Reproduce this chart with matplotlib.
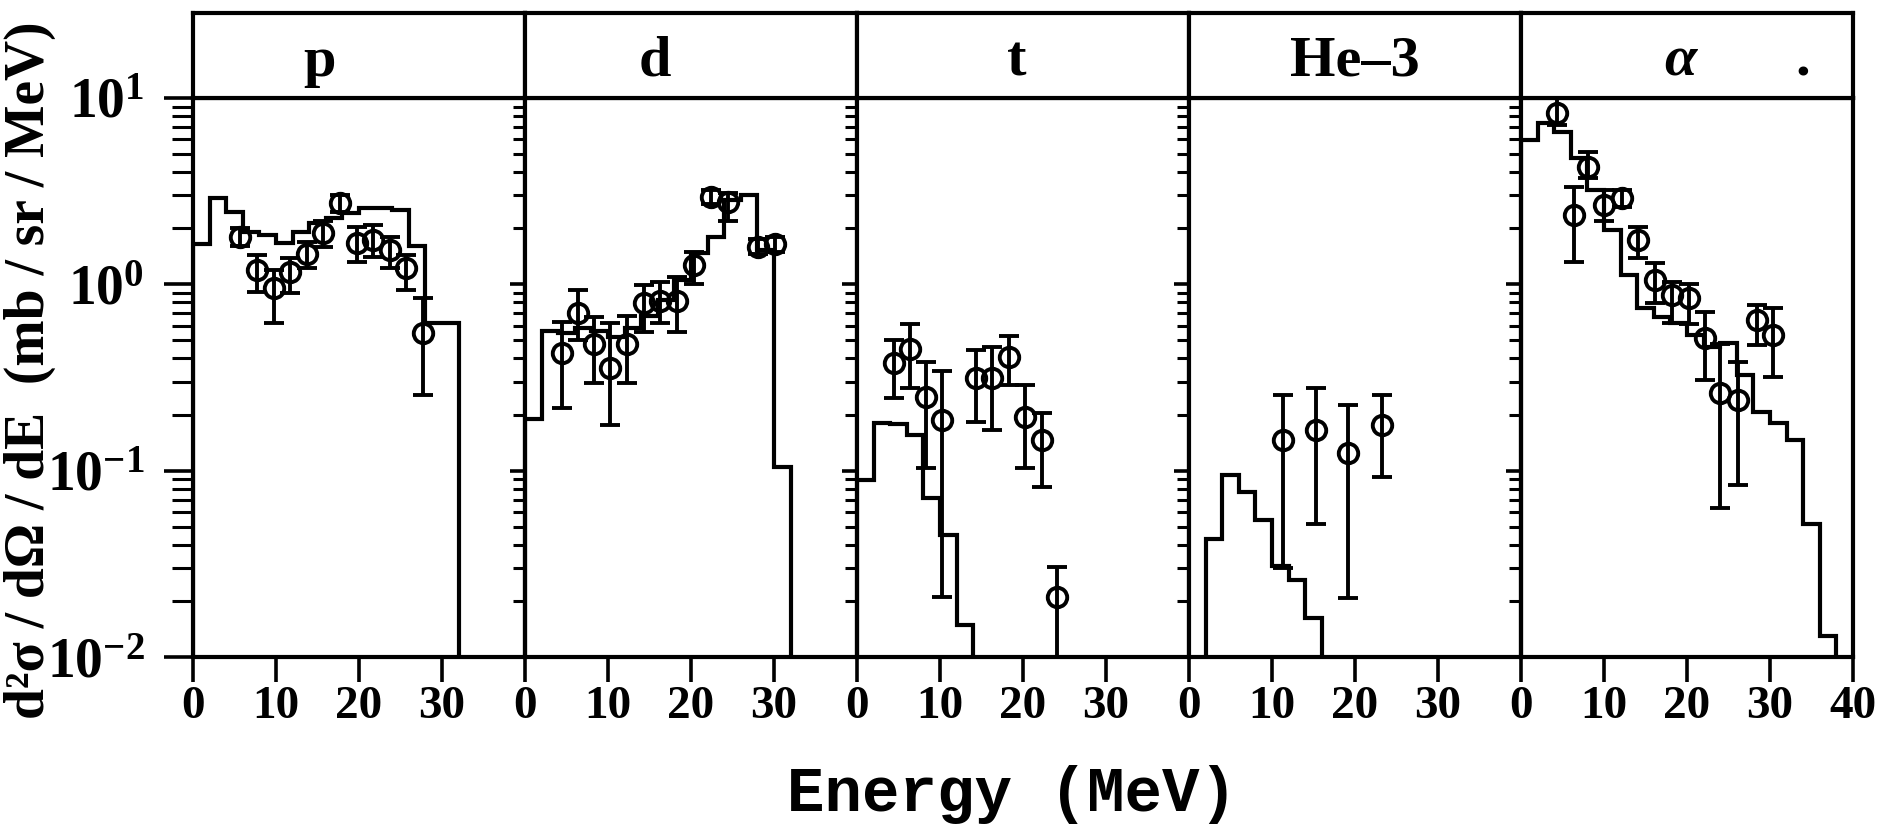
import numpy as np
import matplotlib
matplotlib.use("Agg")
import matplotlib.pyplot as plt
from matplotlib.ticker import LogLocator, NullFormatter, FixedLocator, FuncFormatter

# ---------------- data ----------------
panel_labels = ["p", "d", "t", "He\u20133", "\u03b1"]

# histogram bin edges (MeV) and calculated spectra
edges_p = [0, 2, 4, 6, 8, 10, 12, 14, 16, 18, 20, 22, 24, 26, 28, 30, 32]
hist_p = [1.65, 2.9, 2.43, 1.92, 1.84, 1.66, 1.92, 2.14, 2.26, 2.4, 2.56, 2.56, 2.5, 1.61, 0.62, 0.62]

edges_d = [0, 2, 4, 6, 8, 10, 12, 14, 16, 18, 20, 22, 24, 26, 28, 30, 32]
hist_d = [0.19, 0.56, 0.55, 0.58, 0.56, 0.52, 0.58, 0.68, 0.82, 1.05, 1.47, 1.79, 2.84, 3.02, 1.53, 0.105]

edges_t = [0, 2, 4, 6, 8, 10, 12, 14]
hist_t = [0.089, 0.181, 0.177, 0.156, 0.071, 0.045, 0.0149]

edges_he3 = [0, 2, 4, 6, 8, 10, 12, 14, 16]
hist_he3 = [0.0, 0.0428, 0.0948, 0.0772, 0.0544, 0.0306, 0.0259, 0.0161]

edges_a = [0, 2, 4, 6, 8, 10, 12, 14, 16, 18, 20, 22, 24, 26, 28, 30, 32, 34, 36, 38]
hist_a = [5.95, 7.3, 6.6, 4.75, 3.2, 1.96, 1.12, 0.743, 0.671, 0.618, 0.535, 0.463,
          0.482, 0.326, 0.207, 0.18, 0.146, 0.052, 0.013]

# measured points: energy, value, lower bound, upper bound
E_p = [5.7, 7.7, 9.7, 11.7, 13.7, 15.7, 17.7, 19.7, 21.7, 23.7, 25.7, 27.7]
v_p = [1.79, 1.19, 0.95, 1.17, 1.46, 1.88, 2.72, 1.66, 1.73, 1.52, 1.23, 0.545]
lo_p = [1.6, 0.91, 0.62, 0.9, 1.22, 1.59, 2.45, 1.32, 1.41, 1.22, 0.93, 0.255]
hi_p = [2.0, 1.44, 1.19, 1.38, 1.69, 2.2, 3.0, 2.04, 2.08, 1.8, 1.44, 0.84]

E_d = [4.4, 6.4, 8.3, 10.3, 12.3, 14.3, 16.3, 18.3, 20.4, 22.4, 24.5, 28.1, 30.1]
v_d = [0.426, 0.70, 0.48, 0.354, 0.48, 0.79, 0.81, 0.81, 1.27, 2.95, 2.75, 1.59, 1.65]
lo_d = [0.216, 0.50, 0.294, 0.176, 0.294, 0.557, 0.62, 0.557, 1.0, 2.7, 2.2, 1.45, 1.5]
hi_d = [0.63, 0.93, 0.67, 0.62, 0.68, 0.99, 1.03, 1.1, 1.5, 3.2, 3.1, 1.75, 1.8]

E_t = [4.4, 6.4, 8.3, 10.3, 14.3, 16.3, 18.3, 20.3, 22.3, 24.1]
v_t = [0.377, 0.448, 0.249, 0.187, 0.313, 0.313, 0.409, 0.195, 0.146, 0.0211]
lo_t = [0.245, 0.277, 0.103, 0.0211, 0.183, 0.165, 0.288, 0.103, 0.082, 0.001]
hi_t = [0.50, 0.61, 0.385, 0.344, 0.444, 0.463, 0.528, 0.288, 0.203, 0.0305]

E_he3 = [11.3, 15.3, 19.2, 23.3]
v_he3 = [0.146, 0.165, 0.124, 0.176]
lo_he3 = [0.03, 0.052, 0.0207, 0.093]
hi_he3 = [0.255, 0.277, 0.225, 0.255]

E_a = [4.3, 6.4, 8.1, 10.0, 12.2, 14.1, 16.2, 18.2, 20.2, 22.2, 24.0, 26.2, 28.4, 30.4]
v_a = [8.3, 2.35, 4.28, 2.67, 2.9, 1.73, 1.05, 0.877, 0.84, 0.513, 0.26, 0.239, 0.644, 0.535]
lo_a = [7.2, 1.32, 3.7, 2.2, 2.6, 1.38, 0.79, 0.62, 0.61, 0.307, 0.063, 0.084, 0.47, 0.32]
hi_a = [10.0, 3.34, 5.15, 3.2, 3.2, 2.04, 1.3, 1.03, 1.01, 0.713, 0.48, 0.385, 0.775, 0.75]

x_ticks = [0, 10, 20, 30]
x_ticks_last = [0, 10, 20, 30, 40]

ylabel = "d\u00b2\u03c3 / d\u03a9 / dE  (mb / sr / MeV)"
xlabel = "Energy (MeV)"

# ---------------- style ----------------
plt.rcParams['font.family'] = ['Liberation Serif', 'DejaVu Serif']
plt.rcParams['font.weight'] = 'bold'
plt.rcParams['mathtext.fontset'] = 'custom'
plt.rcParams['mathtext.rm'] = 'Liberation Serif:bold'
plt.rcParams['mathtext.bf'] = 'Liberation Serif:bold'
plt.rcParams['mathtext.it'] = 'Liberation Serif:italic:bold'

W_PX, H_PX = 1886, 840
fig = plt.figure(figsize=(W_PX / 100, H_PX / 100), dpi=100)

left = 193 / W_PX
pw = 332 / W_PX
bottom = 1 - 657 / H_PX
ph = (657 - 98) / H_PX
sb = 1 - 98 / H_PX
sh = (98 - 13) / H_PX

LW = 3.0
ELW = 2.8
panels = [
    (edges_p, hist_p, E_p, v_p, lo_p, hi_p),
    (edges_d, hist_d, E_d, v_d, lo_d, hi_d),
    (edges_t, hist_t, E_t, v_t, lo_t, hi_t),
    (edges_he3, hist_he3, E_he3, v_he3, lo_he3, hi_he3),
    (edges_a, hist_a, E_a, v_a, lo_a, hi_a),
]
label_xpos = [0.38, 0.39, 0.48, 0.5, 0.48]


def ylab(v, pos):
    e = int(round(np.log10(v)))
    return r"$\mathbf{10^{%d}}$" % e


for i, (edges, hist, E, v, lo, hi) in enumerate(panels):
    ax = fig.add_axes([left + i * pw, bottom, pw, ph])
    ax.set_yscale('log')
    ax.set_xlim(0, 40)
    ax.set_ylim(1e-2, 10)

    h = np.asarray(hist, dtype=float)
    h = np.where(h > 0, h, 1e-6)
    ax.stairs(h, edges, baseline=1e-6, color='black', lw=LW)

    v = np.asarray(v, dtype=float)
    yerr = [v - np.asarray(lo), np.asarray(hi) - v]
    ax.errorbar(E, v, yerr=yerr, fmt='o', mfc='none', mec='black', ecolor='black',
                ms=14, mew=ELW, elinewidth=ELW, capsize=7.5, capthick=ELW, clip_on=True)

    for s in ax.spines.values():
        s.set_linewidth(LW)

    ax.xaxis.set_major_locator(FixedLocator(x_ticks_last if i == 4 else x_ticks))
    ax.tick_params(axis='x', which='major', direction='out', length=18, width=2.6,
                   pad=3, labelsize=34, top=False)
    ax.yaxis.set_major_locator(LogLocator(base=10, numticks=10))
    ax.yaxis.set_minor_locator(LogLocator(base=10, subs=np.arange(2, 10), numticks=20))
    ax.yaxis.set_minor_formatter(NullFormatter())
    if i == 0:
        ax.yaxis.set_major_formatter(FuncFormatter(ylab))
        ax.tick_params(axis='y', which='major', direction='out', length=21, width=2.6,
                       pad=14, labelsize=40, right=False)
        ax.tick_params(axis='y', which='minor', direction='out', length=15, width=2.2,
                       right=False)
    else:
        ax.tick_params(axis='y', which='major', direction='out', length=11, width=2.6,
                       labelleft=False, right=False)
        ax.tick_params(axis='y', which='minor', direction='out', length=8.5, width=2.2,
                       right=False)

    sax = fig.add_axes([left + i * pw, sb, pw, sh])
    sax.set_xticks([])
    sax.set_yticks([])
    for s in sax.spines.values():
        s.set_linewidth(LW)
    style = 'italic' if panel_labels[i] == "\u03b1" else 'normal'
    sax.text(label_xpos[i], 0.26, panel_labels[i], transform=sax.transAxes,
             ha='center', va='baseline', fontsize=42, fontweight='bold', fontstyle=style)
    if i == 4:
        sax.text(0.85, 0.26, ".", transform=sax.transAxes, ha='center', va='baseline',
                 fontsize=42, fontweight='bold')

fig.text(30 / W_PX, 1 - 370 / H_PX, ylabel, rotation=90, ha='center', va='center',
         fontsize=40, fontweight='bold')
fig.text(1012 / W_PX, 0.035, xlabel, ha='center', va='baseline',
         fontsize=45, fontweight='bold', family=['Liberation Mono', 'DejaVu Sans Mono'])

fig.savefig("out.png", dpi=100)
